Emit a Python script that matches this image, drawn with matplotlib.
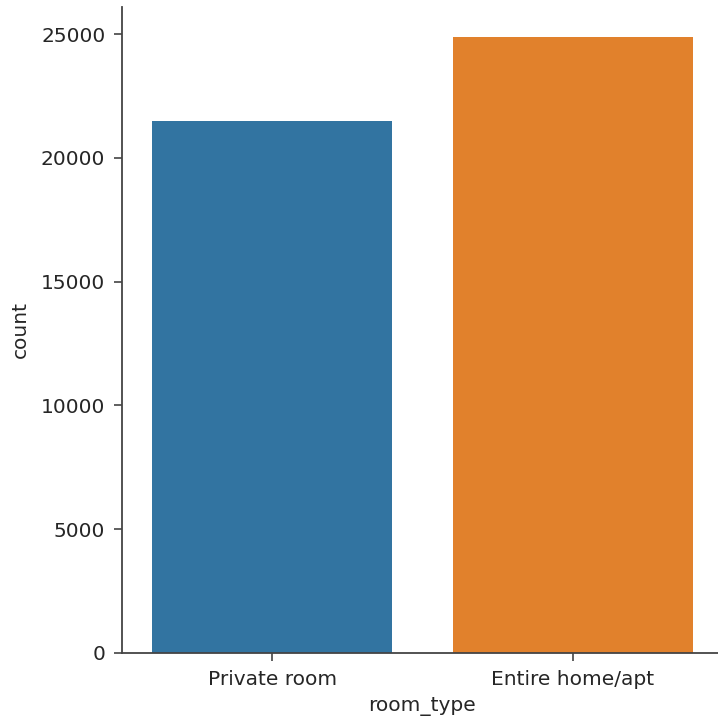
import matplotlib
matplotlib.use("Agg")
import matplotlib.pyplot as plt

categories = ["Private room", "Entire home/apt"]
counts = [21500, 24880]
colors = ["#3274a1", "#e1812c"]

plt.rcParams["text.color"] = "#262626"
plt.rcParams["axes.labelcolor"] = "#262626"
plt.rcParams["xtick.color"] = "#262626"
plt.rcParams["ytick.color"] = "#262626"

fig = plt.figure(figsize=(7.18, 7.22), dpi=100)
ax = fig.add_axes([122/718, 69/722, 601/718, 646/722])
x = list(range(len(categories)))
ax.bar(x, counts, width=0.8, color=colors)
ax.set_xticks(x)
ax.set_xticklabels(categories)
ax.set_xlim(-0.5, 1.5)
ax.set_ylim(0, 26100)
ax.set_yticks([0, 5000, 10000, 15000, 20000, 25000])
ax.tick_params(axis="both", labelsize=14.5, length=6, width=1.2, pad=6, color="#444444")
ax.set_xlabel("room_type", fontsize=14.5, labelpad=6)
ax.set_ylabel("count", fontsize=14.5, labelpad=8)
for s in ["left", "bottom"]:
    ax.spines[s].set_linewidth(1.3)
    ax.spines[s].set_color("#444444")
ax.spines["top"].set_visible(False)
ax.spines["right"].set_visible(False)
fig.savefig("out.png", dpi=100)
